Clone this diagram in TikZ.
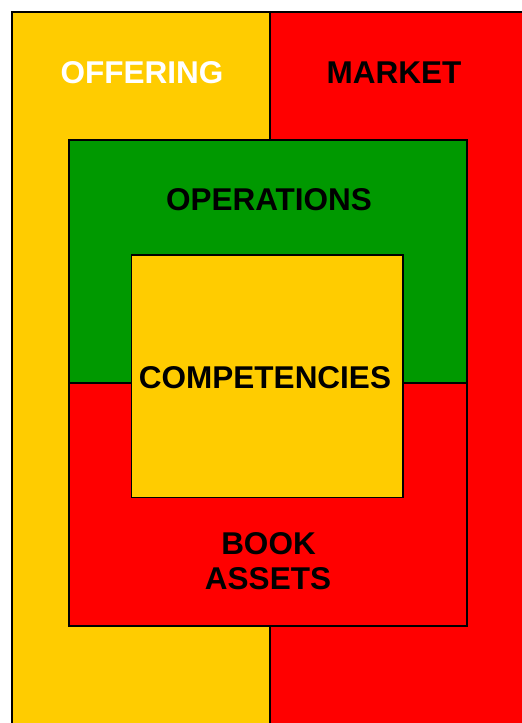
\documentclass[tikz,border=0pt]{standalone}
\usepackage{fontspec}
\setmainfont{Liberation Sans}
\definecolor{gold}{HTML}{FFCC00}
\definecolor{fieldred}{HTML}{FF0000}
\definecolor{fieldgreen}{HTML}{009900}
\begin{document}
\begin{tikzpicture}[x=1pt,y=-1pt,
  panel/.style={draw=black,line width=1.9pt},
  label/.style={font=\bfseries\fontsize{31.5}{35}\selectfont,anchor=base,inner sep=0pt}]
\useasboundingbox (0,0) rectangle (522,723);
\clip (0,0) rectangle (522,723);
% outer halves
\fill[gold] (12,12) rectangle (270,740);
\fill[fieldred] (270,12) rectangle (540,740);
\draw[line width=1.6pt] (12,740) -- (12,12) -- (540,12);
\draw[line width=1.9pt] (270,12) -- (270,740);
% middle frame: operations over book assets
\draw[panel,fill=fieldgreen] (69,140) rectangle (467,383);
\draw[panel,fill=fieldred] (69,383) rectangle (467,626);
% core
\draw[panel,fill=gold] (131.5,255) rectangle (403,497.5);
% labels
\node[label,text=white] (offering) at (142,83) {OFFERING};
\node[label] (market) at (394,83) {MARKET};
\node[label] (operations) at (269,210) {OPERATIONS};
\node[label] (competencies) at (265,388.5) {COMPETENCIES};
\node[label] (book) at (268.5,554) {BOOK};
\node[label] (assets) at (268,589) {ASSETS};
\end{tikzpicture}
\end{document}
